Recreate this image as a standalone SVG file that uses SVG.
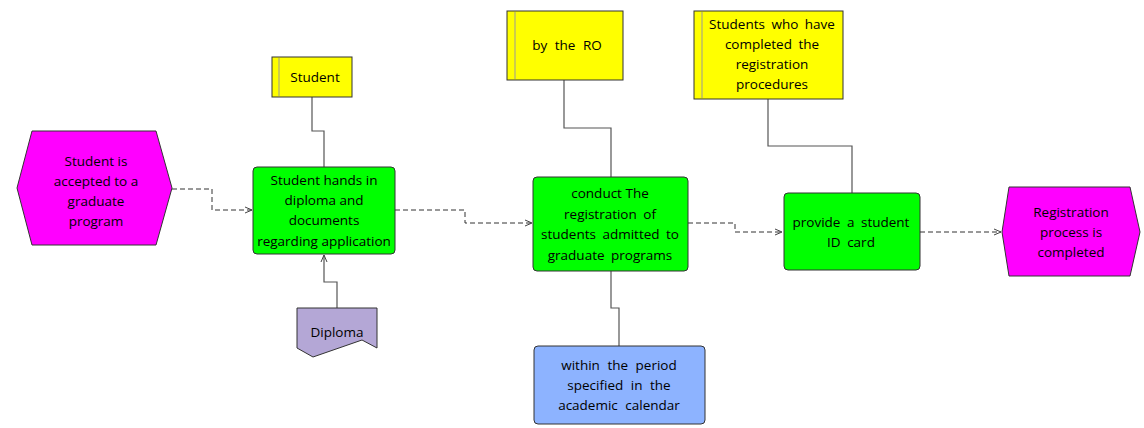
<svg xmlns="http://www.w3.org/2000/svg" width="1144" height="428" viewBox="0 0 1144 428">
<defs>
<marker id="arr" markerWidth="10" markerHeight="10" refX="8" refY="4" orient="auto" markerUnits="userSpaceOnUse">
<path d="M1,1 L8,4 L1,7" fill="none" stroke="#444" stroke-width="1"/>
</marker>
<style>
text{font-family:"Open Sans","Noto Sans","Liberation Sans",sans-serif;font-size:13.5px;fill:#000;text-anchor:middle}
.ev{fill:#ff00ff;stroke:#333;stroke-width:1}
.fn{fill:#00ff00;stroke:#333;stroke-width:1}
.org{fill:#ffff00;stroke:#333;stroke-width:1}
.inl{stroke:#999;stroke-width:1}
.doc{fill:#b4a7d6;stroke:#333;stroke-width:1}
.blue{fill:#8db3ff;stroke:#333;stroke-width:1}
.flow{fill:none;stroke:#333;stroke-width:1;stroke-dasharray:5,3;marker-end:url(#arr)}
.link{fill:none;stroke:#555;stroke-width:1.2}
</style>
</defs>
<g id="connectors">
<polyline class="flow" points="172,189 212,189 212,210 252,210"/>
<polyline class="flow" points="395,210 465,210 465,223 532,223"/>
<polyline class="flow" points="688,223 735,223 735,232 782,232"/>
<polyline class="flow" points="920,232 1001,232"/>
<polyline class="link" points="312,97 312,131 324,131 324,167"/>
<polyline class="link" points="337,308 337,282 324,282 324,255" marker-end="url(#arr)"/>
<polyline class="link" points="564,80 564,128 611,128 611,177"/>
<polyline class="link" points="611,271 611,308 619,308 619,346"/>
<polyline class="link" points="768,99 768,146 852,146 852,193"/>
</g>
<g id="ev1">
<polygon class="ev" points="17,188 32,131 156,131 172,188 156,245 32,245"/>
<text x="96" y="166">Student is</text>
<text x="96" y="186">accepted to a</text>
<text x="96" y="206">graduate</text>
<text x="96" y="226">program</text>
</g>
<g id="fn1">
<rect class="fn" x="253" y="167" width="142" height="87" rx="4"/>
<text x="324" y="185">Student hands in</text>
<text x="324" y="205">diploma and</text>
<text x="324" y="225">documents</text>
<text x="324" y="246">regarding application</text>
</g>
<g id="org1">
<rect class="org" x="272" y="57" width="80" height="40"/>
<line class="inl" x1="279" y1="58" x2="279" y2="96"/>
<text x="315" y="82">Student</text>
</g>
<g id="doc1">
<polygon class="doc" points="297,308 377,308 377,348 362,340 313,357 297,348"/>
<text x="337" y="337">Diploma</text>
</g>
<g id="fn2">
<rect class="fn" x="533" y="177" width="155" height="94" rx="4"/>
<text x="610" y="198">conduct The</text>
<text x="610" y="219" word-spacing="3">registration of</text>
<text x="610" y="239" word-spacing="3">students admitted to</text>
<text x="610" y="260" word-spacing="3">graduate programs</text>
</g>
<g id="org2">
<rect class="org" x="507" y="11" width="116" height="69"/>
<line class="inl" x1="515" y1="12" x2="515" y2="79"/>
<text x="567" y="50" word-spacing="4">by the RO</text>
</g>
<g id="blue1">
<rect class="blue" x="534" y="346" width="171" height="78" rx="4"/>
<text x="619" y="370" word-spacing="4">within the period</text>
<text x="619" y="390" word-spacing="4">specified in the</text>
<text x="619" y="410" word-spacing="4">academic calendar</text>
</g>
<g id="fn3">
<rect class="fn" x="784" y="193" width="136" height="77" rx="4"/>
<text x="851" y="227" word-spacing="3">provide a student</text>
<text x="851" y="247" word-spacing="3">ID card</text>
</g>
<g id="org3">
<rect class="org" x="694" y="11" width="149" height="88"/>
<line class="inl" x1="702" y1="12" x2="702" y2="98"/>
<text x="772" y="29" word-spacing="3">Students who have</text>
<text x="772" y="49" word-spacing="3">completed the</text>
<text x="772" y="69">registration</text>
<text x="772" y="89">procedures</text>
</g>
<g id="ev2">
<polygon class="ev" points="1002,232 1009,187 1130,187 1140,232 1130,276 1009,276"/>
<text x="1071" y="217">Registration</text>
<text x="1071" y="237">process is</text>
<text x="1071" y="257">completed</text>
</g>
</svg>
